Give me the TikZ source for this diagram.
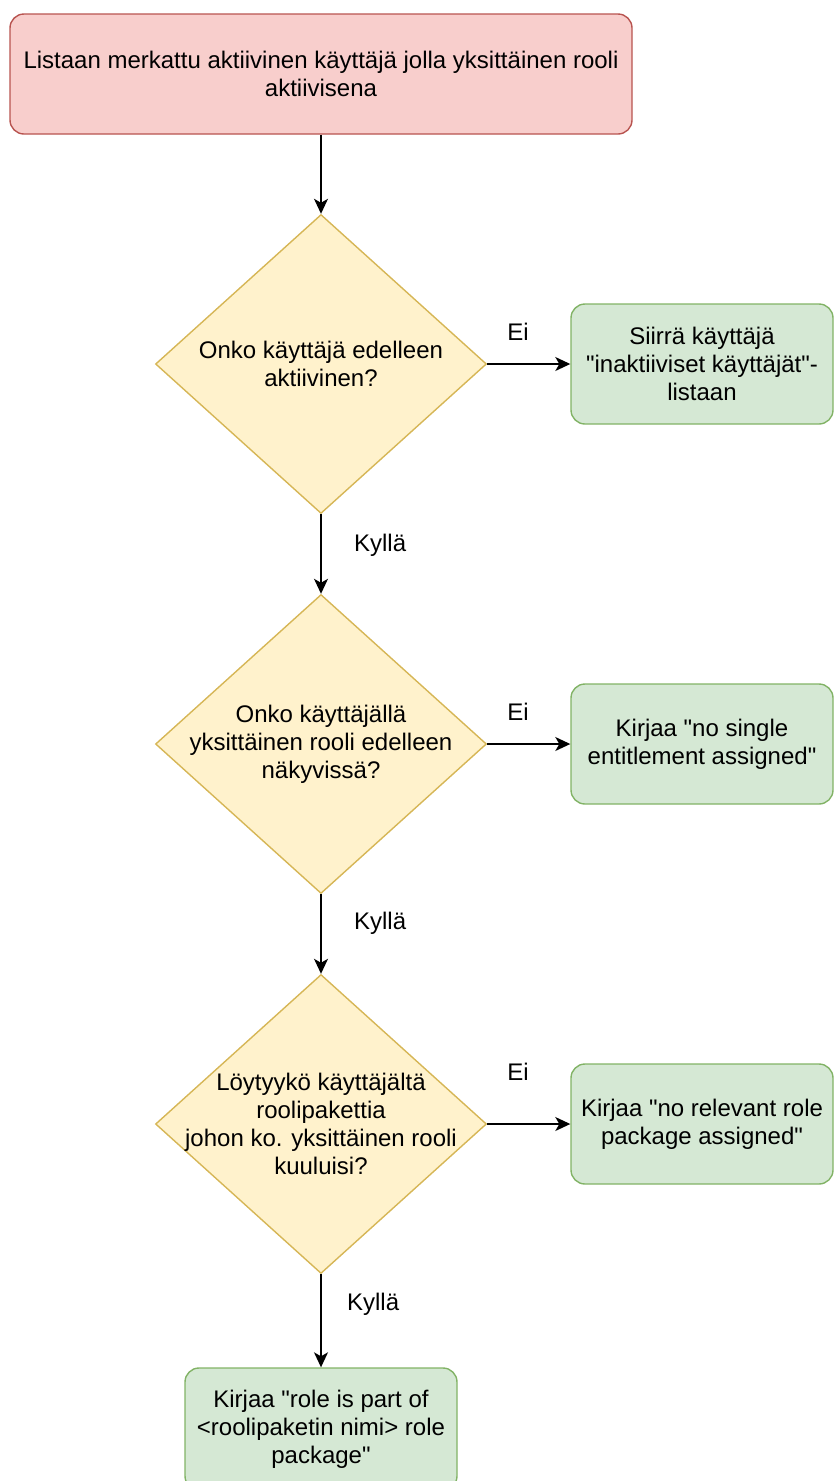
\documentclass[tikz,border=0pt]{standalone}
\usepackage{fontspec}
\setmainfont{Liberation Sans}
\usetikzlibrary{shapes.geometric,arrows.meta}
\definecolor{startfill}{HTML}{F8CECC}
\definecolor{startline}{HTML}{B85450}
\definecolor{askfill}{HTML}{FFF2CC}
\definecolor{askline}{HTML}{D6B656}
\definecolor{endfill}{HTML}{D5E8D4}
\definecolor{endline}{HTML}{82B366}
\newcommand{\q}{\textquotedbl}
\begin{document}
\begin{tikzpicture}[x=1pt, y=-1pt]
        \tikzstyle{every node} = [font=\fontsize{24}{28}\selectfont, align=center, text=black]
        \tikzstyle{startbox} = [rectangle, rounded corners=14pt, draw=startline, fill=startfill, line width=1.4pt, minimum width=622pt, minimum height=120pt]
        \tikzstyle{askbox} = [diamond, draw=askline, fill=askfill, line width=1.4pt, minimum width=331pt, minimum height=299pt, inner sep=0pt]
        \tikzstyle{endbox} = [rectangle, rounded corners=14pt, draw=endline, fill=endfill, line width=1.4pt, minimum width=262pt, minimum height=120pt]
        \tikzstyle{flow} = [-{Stealth[length=15pt, width=14pt, inset=4pt]}, line width=1.5pt]
        \useasboundingbox (0,0) rectangle (835,1481);
        \node[startbox](Start) at (321,74) {Listaan merkattu aktiivinen käyttäjä jolla yksittäinen rooli\\aktiivisena};
        \node[askbox](Active) at (321,364) {};
        \node(ActiveText) at (Active) {Onko käyttäjä edelleen\\aktiivinen?};
        \node[endbox](Move) at (702,364) {Siirrä käyttäjä\\\q inaktiiviset käyttäjät\q-\\listaan};
        \node[askbox](Visible) at (321,744) {};
        \node(VisibleText) at (Visible) {Onko käyttäjällä\\yksittäinen rooli edelleen\\näkyvissä?};
        \node[endbox](NoSingle) at (702,744) {Kirjaa \q no single\\entitlement assigned\q};
        \node[askbox](Package) at (321,1124) {};
        \node(PackageText) at (Package) {Löytyykö käyttäjältä\\roolipakettia\\johon ko. yksittäinen rooli\\kuuluisi?};
        \node[endbox](NoPackage) at (702,1124) {Kirjaa \q no relevant role\\package assigned\q};
        \node[endbox, minimum width=272pt, minimum height=122pt](PartOf) at (321,1429) {Kirjaa \q role is part of\\<roolipaketin nimi> role\\package\q};
        \draw [flow] (Start) -- (Active);
        \draw [flow] (Active) -- node[pos=0.37, above=19pt](NoActive) {Ei} (Move);
        \draw [flow] (Active) -- node[pos=0.39, right=29pt](YesActive) {Kyllä} (Visible);
        \draw [flow] (Visible) -- node[pos=0.37, above=19pt](NoVisible) {Ei} (NoSingle);
        \draw [flow] (Visible) -- node[pos=0.36, right=29pt](YesVisible) {Kyllä} (Package);
        \draw [flow] (Package) -- node[pos=0.37, above=39pt](NoPkg) {Ei} (NoPackage);
        \draw [flow] (Package) -- node[pos=0.32, right=22pt](YesPkg) {Kyllä} (PartOf);

    \end{tikzpicture}
\end{document}
